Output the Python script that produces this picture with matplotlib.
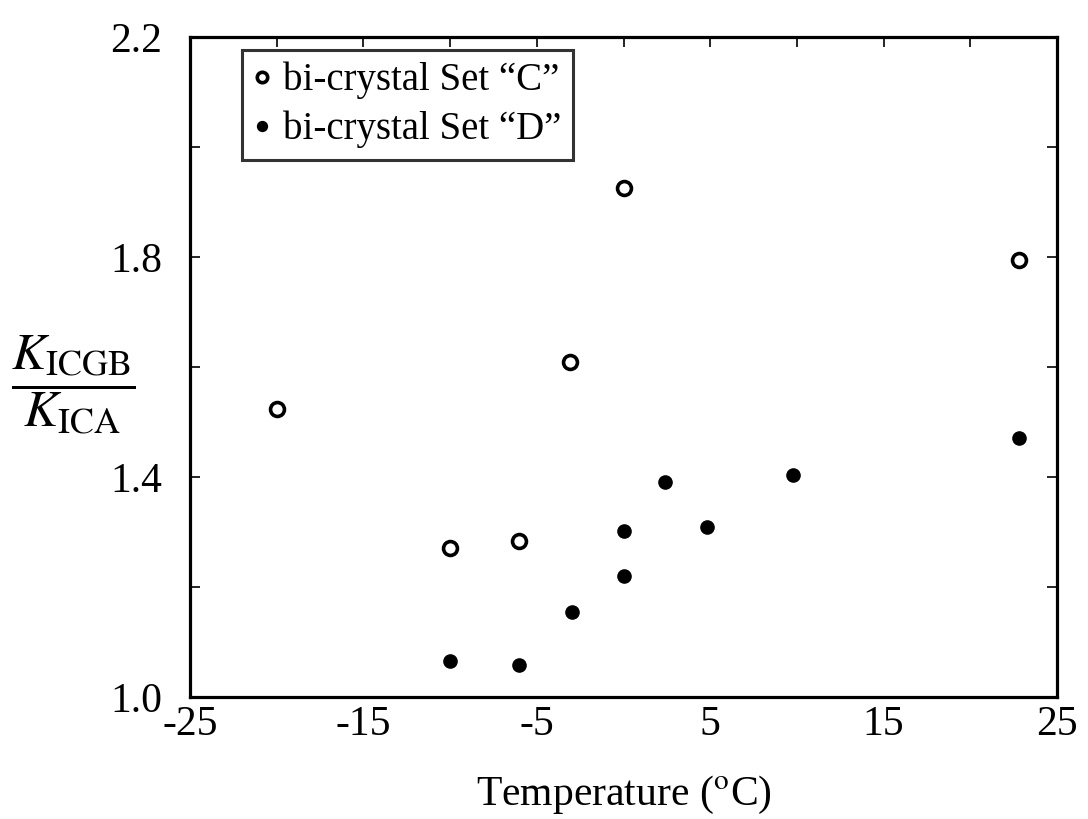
import matplotlib.pyplot as plt
import numpy as np

plt.rcParams['font.family'] = ['Liberation Serif', 'DejaVu Serif']
plt.rcParams['mathtext.fontset'] = 'stix'

# bi-crystal Set "C" (open circles)
temp_c = [-20, -10, -6, -3.1, 0, 22.8]
ratio_c = [1.524, 1.271, 1.284, 1.609, 1.925, 1.795]

# bi-crystal Set "D" (filled circles)
temp_d = [-10, -6, -3, 0, 0, 2.4, 4.8, 9.8, 22.8]
ratio_d = [1.065, 1.058, 1.155, 1.22, 1.302, 1.391, 1.309, 1.404, 1.471]

xticks = [-25, -15, -5, 5, 15, 25]
yticks = [1.0, 1.4, 1.8, 2.2]

fig = plt.figure(figsize=(10.88, 8.19), dpi=100)
ax = fig.add_axes([0.1746, 0.149, 0.797, 0.806])

ax.plot(temp_c, ratio_c, 'o', mfc='white', mec='black', ms=10, mew=2.6,
        label='bi-crystal Set \u201cC\u201d')
ax.plot(temp_d, ratio_d, 'o', color='black', ms=9.5,
        label='bi-crystal Set \u201cD\u201d')

ax.set_xlim(-25, 25)
ax.set_ylim(1.0, 2.2)

ax.set_xticks(xticks)
ax.set_xticklabels([str(t) for t in xticks])
ax.set_xticks(np.arange(-20, 25, 10), minor=True)
ax.set_yticks(yticks)
ax.set_yticklabels(['%.1f' % t for t in yticks])
ax.set_yticks([1.2, 1.6, 2.0], minor=True)

ax.tick_params(which='both', direction='in', top=True, right=True,
               length=7, width=1.2, labelsize=30)
ax.tick_params(axis='x', which='both', bottom=False, pad=6)
ax.tick_params(axis='y', pad=20)

for s in ax.spines.values():
    s.set_linewidth(2.3)

ax.set_xlabel('Temperature ($^{\\mathrm{o}}$C)', fontsize=30, labelpad=22)
fig.text(0.067, 0.53, r'$\dfrac{K_{\mathrm{ICGB}}}{K_{\mathrm{ICA}}}$',
         fontsize=37, ha='center', va='center')

leg = ax.legend(loc='upper left', bbox_to_anchor=(0.06, 0.98), fontsize=28,
                frameon=True, fancybox=False, borderpad=0.3, handlelength=0.45,
                handletextpad=0.3, labelspacing=0.3, borderaxespad=0,
                markerscale=0.75)
leg.get_frame().set_edgecolor('black')
leg.get_frame().set_linewidth(2.2)

fig.savefig('out.png', dpi=100)
